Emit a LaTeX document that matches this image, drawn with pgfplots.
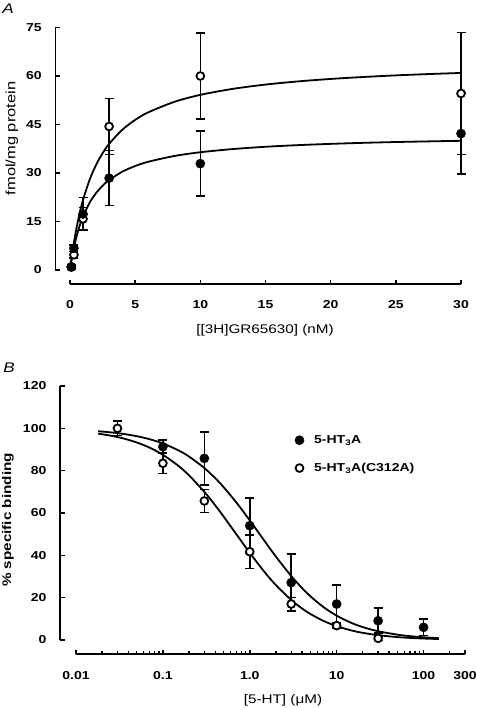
\documentclass[border=0pt]{standalone}
\usepackage{fontspec}
\setmainfont{Liberation Sans}[FakeStretch=1.22]
\usepackage{pgfplots}
\pgfplotsset{compat=1.18}
\begin{document}
\fontsize{11.5}{13}\selectfont
\begin{tikzpicture}
\useasboundingbox (0pt,0pt) rectangle (476pt,-708pt);
\pgfplotsset{
  common/.style={
    scale only axis, clip=false,
    axis x line*=bottom, axis y line*=left,
    tick align=inside,
    axis line style={draw=none},
    major tick style={draw=none},
    minor tick style={draw=none},
    /pgf/number format/assume math mode=true,
    tick label style={font=\fontsize{11.5}{13}\selectfont\bfseries},
    label style={font=\fontsize{12.5}{14}\selectfont},
  },
  axe/.style={forget plot, only marks, mark=*, mark size=0.01pt,
    mark options={draw=none, fill=none},
    error bars/error mark=none,
    error bars/error bar style={line width=1.9pt, black}},
  tke/.style={forget plot, only marks, mark=*, mark size=0.01pt,
    mark options={draw=none, fill=none},
    error bars/error mark=none,
    error bars/error bar style={line width=1.5pt, black}},
  curve/.style={black, line width=1.8pt, no markers, smooth, forget plot},
  filled/.style={forget plot, only marks, mark=*, mark size=4.6pt,
    mark options={fill=black, draw=black, line width=0.4pt},
    error bars/.cd, y dir=both, y explicit,
    error bar style={line width=1.6pt, black},
    error mark options={rotate=90, mark size=4.5pt, line width=1.6pt, black}},
  open/.style={forget plot, only marks, mark=*, mark size=3.9pt,
    mark options={fill=white, draw=black, line width=1.8pt},
    error bars/.cd, y dir=both, y explicit,
    error bar style={line width=1.6pt, black},
    error mark options={rotate=90, mark size=4.5pt, line width=1.6pt, black}},
}
\node[font=\fontsize{14}{16}\selectfont\itshape] at (8pt,-9pt) {A};
\node[font=\fontsize{14}{16}\selectfont\itshape] at (9pt,-368pt) {B};

% ---------------- Panel A ----------------
\begin{axis}[common, at={(53.06pt,-286.17pt)}, anchor=south west,
  width=407.94pt, height=258.67pt,
  xmin=-1.3, xmax=30, ymin=-5, ymax=75,
  xtick={0,5,...,30}, ytick={0,15,...,75},
  xticklabel shift=10.1pt, yticklabel shift=7.4pt,
  xlabel={[[3H]GR65630] (nM)}, ylabel={fmol/mg protein},
  xlabel style={at={(axis description cs:0.5195,-0.1694)}, anchor=center},
  ylabel style={at={(axis description cs:-0.1007,0.5709)}, anchor=center,
    font=\fontsize{13.5}{15}\selectfont},
]
% detached axis lines and inward ticks
\addplot[axe, error bars/.cd, x dir=both, x explicit] coordinates {(15,-4.33) +- (15,0)};
\addplot[axe, error bars/.cd, y dir=both, y explicit] coordinates {(-1.113,37.5) +- (0,37.5)};
\addplot[tke, error bars/.cd, y dir=plus, y explicit] coordinates {
 (0,-4.33) +- (0,1.39) (5,-4.33) +- (0,1.39) (10,-4.33) +- (0,1.39)
 (15,-4.33) +- (0,1.39) (20,-4.33) +- (0,1.39) (25,-4.33) +- (0,1.39)
 (30,-4.33) +- (0,1.39)};
\addplot[tke, error bars/.cd, x dir=plus, x explicit] coordinates {
 (-1.113,0) +- (0.345,0) (-1.113,15) +- (0.345,0) (-1.113,30) +- (0.345,0)
 (-1.113,45) +- (0.345,0) (-1.113,60) +- (0.345,0) (-1.113,75) +- (0.345,0)};
\addplot[curve] coordinates {
 (0.05,1.33) (0.1,2.58) (0.2,4.86) (0.3,6.88) (0.5,10.34) (0.75,13.82) (1,16.60)
 (1.5,20.79) (2,23.79) (2.5,26.05) (3,27.81) (4,30.38) (5,32.16) (6,33.47) (8,35.26)
 (10,36.42) (12.5,37.41) (15,38.11) (17.5,38.62) (20,39.01) (22.5,39.33) (25,39.58)
 (27.5,39.78) (30,39.96)};
\addplot[curve] coordinates {
 (0.05,1.59) (0.1,3.10) (0.2,5.91) (0.3,8.48) (0.5,13.00) (0.75,17.73) (1,21.67)
 (1.5,27.86) (2,32.50) (2.5,36.11) (3,39.00) (4,43.33) (5,46.43) (6,48.75) (8,52.00)
 (10,54.17) (12.5,56.03) (15,57.35) (17.5,58.33) (20,59.09) (22.5,59.69) (25,60.19)
 (27.5,60.60) (30,60.94)};
\addplot[open] coordinates {
 (0.1,0.9) +- (0,0.5)
 (0.3,4.7) +- (0,1.0)
 (1,15.8) +- (0,3.5)
 (3,44.4) +- (0,8.7)
 (10,60.0) +- (0,13.3)
 (30,54.6) +- (0,18.9)};
\addplot[filled] coordinates {
 (0.1,1.0) +- (0,0.5)
 (0.3,6.7) +- (0,1.0)
 (1,17.3) +- (0,5.1)
 (3,28.4) +- (0,8.5)
 (10,32.9) +- (0,10.0)
 (30,42.2) +- (0,12.5)};
\end{axis}

% ---------------- Panel B ----------------
\begin{axis}[common, at={(56.72pt,-656.94pt)}, anchor=south west,
  width=408.28pt, height=270.94pt,
  xmode=log, log basis x=10,
  xmin=0.006, xmax=300, ymin=-8, ymax=120,
  xtick={0.01,0.1,1,10,100,300},
  xticklabels={0.01,0.1,1.0,10,100,300},
  ytick={0,20,...,120},
  xticklabel shift=10.1pt, yticklabel shift=6.3pt,
  xlabel={[5-HT] (μM)}, ylabel={\% specific binding},
  xlabel style={at={(axis description cs:0.5542,-0.1589)}, anchor=center},
  ylabel style={at={(axis description cs:-0.1193,0.5054)}, anchor=center,
    font=\fontsize{12.5}{14}\selectfont\bfseries},
  legend style={at={(axis cs:3.29,97.7)}, anchor=north west, draw=none, fill=none,
    font=\fontsize{11.5}{13}\selectfont\bfseries, row sep=14pt, inner sep=0pt,
    /tikz/every odd column/.append style={column sep=8pt}},
  legend cell align=left,
]
\addlegendimage{only marks, mark=*, mark size=4.6pt, mark options={fill=black, draw=black}}
\addlegendentry{5-HT\textsubscript{3}A}
\addlegendimage{only marks, mark=*, mark size=3.9pt, mark options={fill=white, draw=black, line width=1.8pt}}
\addlegendentry{5-HT\textsubscript{3}A(C312A)}
% detached axis lines and inward ticks
\addplot[axe, error bars/.cd, x dir=both, x explicit] coordinates {(150.005,-6.75) +- (149.995,0)};
\addplot[axe, error bars/.cd, y dir=both, y explicit] coordinates {(0.006546,60) +- (0,60)};
\addplot[tke, error bars/.cd, y dir=plus, y explicit] coordinates {
 (0.01,-6.75) +- (0,2.13) (0.1,-6.75) +- (0,2.13) (1,-6.75) +- (0,2.13)
 (10,-6.75) +- (0,2.13) (100,-6.75) +- (0,2.13) (300,-6.75) +- (0,2.13)};
\addplot[tke, error bars/.cd, y dir=plus, y explicit,
  error bar style={line width=1.3pt}] coordinates {
 (0.02,-6.75) +- (0,1.42) (0.03,-6.75) +- (0,1.42) (0.04,-6.75) +- (0,1.42)
 (0.05,-6.75) +- (0,1.42) (0.06,-6.75) +- (0,1.42) (0.07,-6.75) +- (0,1.42)
 (0.08,-6.75) +- (0,1.42) (0.09,-6.75) +- (0,1.42)
 (0.2,-6.75) +- (0,1.42) (0.3,-6.75) +- (0,1.42) (0.4,-6.75) +- (0,1.42)
 (0.5,-6.75) +- (0,1.42) (0.6,-6.75) +- (0,1.42) (0.7,-6.75) +- (0,1.42)
 (0.8,-6.75) +- (0,1.42) (0.9,-6.75) +- (0,1.42)
 (2,-6.75) +- (0,1.42) (3,-6.75) +- (0,1.42) (4,-6.75) +- (0,1.42)
 (5,-6.75) +- (0,1.42) (6,-6.75) +- (0,1.42) (7,-6.75) +- (0,1.42)
 (8,-6.75) +- (0,1.42) (9,-6.75) +- (0,1.42)
 (20,-6.75) +- (0,1.42) (30,-6.75) +- (0,1.42) (40,-6.75) +- (0,1.42)
 (50,-6.75) +- (0,1.42) (60,-6.75) +- (0,1.42) (70,-6.75) +- (0,1.42)
 (80,-6.75) +- (0,1.42) (90,-6.75) +- (0,1.42) (200,-6.75) +- (0,1.42)};
\addplot[tke, error bars/.cd, x dir=plus, x explicit] coordinates {
 (0.006546,0) +- (0.000834,0) (0.006546,20) +- (0.000834,0)
 (0.006546,40) +- (0.000834,0) (0.006546,60) +- (0.000834,0)
 (0.006546,80) +- (0.000834,0) (0.006546,100) +- (0.000834,0)
 (0.006546,120) +- (0.000834,0)};
\addplot[curve] coordinates {
 (0.018,98.63) (0.025,98.11) (0.035,97.38) (0.05,96.30) (0.07,94.89) (0.1,92.86)
 (0.15,89.66) (0.2,86.67) (0.3,81.25) (0.4,76.47) (0.5,72.22) (0.7,65.00) (1,56.52)
 (1.5,46.43) (2,39.39) (3,30.23) (4,24.53) (5,20.63) (7,15.66) (10,11.50) (15,7.98)
 (20,6.10) (30,4.15) (50,2.53) (70,1.82) (100,1.28) (150,0.86)};
\addplot[curve] coordinates {
 (0.018,97.49) (0.025,96.55) (0.035,95.24) (0.05,93.33) (0.07,90.91) (0.1,87.50)
 (0.15,82.35) (0.2,77.78) (0.3,70.00) (0.4,63.64) (0.5,58.33) (0.7,50.00) (1,41.18)
 (1.5,31.82) (2,25.93) (3,18.92) (4,14.89) (5,12.28) (7,9.09) (10,6.54) (15,4.46)
 (20,3.38) (30,2.28) (50,1.38) (70,0.99) (100,0.70) (150,0.46)};
\addplot[open] coordinates {
 (0.03,100.0) +- (0,3.4)
 (0.1,83.5) +- (0,4.8)
 (0.3,65.7) +- (0,5.4)
 (1,41.7) +- (0,7.9)
 (3,17.0) +- (0,3.0)
 (10,6.8) +- (0,1.0)
 (30,0.8) +- (0,1.0)};
\addplot[filled] coordinates {
 (0.1,91.3) +- (0,3.2)
 (0.3,85.8) +- (0,12.6)
 (1,54.0) +- (0,13.2)
 (3,27.1) +- (0,13.4)
 (10,17.0) +- (0,9.0)
 (30,9.1) +- (0,5.9)
 (100,6.0) +- (0,3.9)};
\end{axis}
\end{tikzpicture}
\end{document}
